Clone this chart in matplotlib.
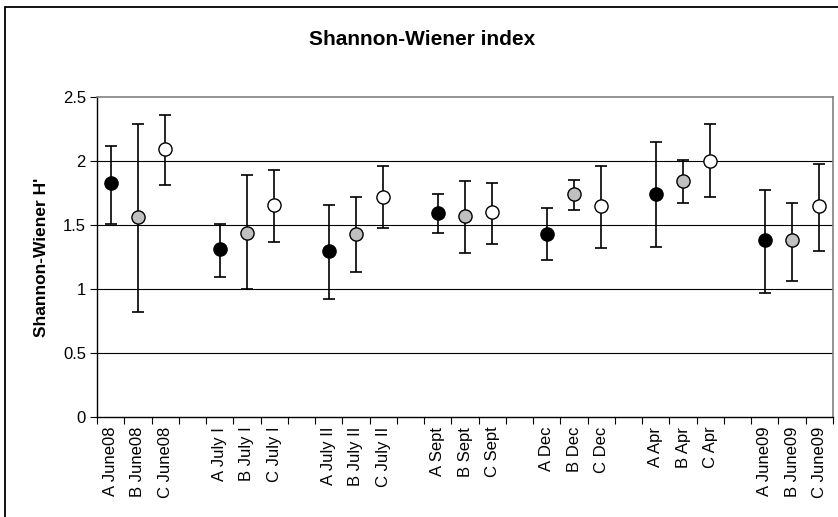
import matplotlib
matplotlib.use("Agg")
import matplotlib.pyplot as plt
from matplotlib.patches import Rectangle

plt.rcParams['font.family'] = ['Liberation Sans', 'DejaVu Sans']

categories = ["A June08", "B June08", "C June08", "",
              "A July I", "B July I", "C July I", "",
              "A July II", "B July II", "C July II", "",
              "A Sept", "B Sept", "C Sept", "",
              "A Dec", "B Dec", "C Dec", "",
              "A Apr", "B Apr", "C Apr", "",
              "A June09", "B June09", "C June09"]

# None marks the empty spacer categories
means = [1.83, 1.56, 2.09, None,
         1.31, 1.44, 1.66, None,
         1.30, 1.43, 1.72, None,
         1.59, 1.57, 1.60, None,
         1.43, 1.745, 1.65, None,
         1.745, 1.84, 2.00, None,
         1.38, 1.38, 1.65]
upper = [2.12, 2.29, 2.36, None,
         1.51, 1.89, 1.93, None,
         1.66, 1.72, 1.96, None,
         1.74, 1.84, 1.83, None,
         1.63, 1.855, 1.96, None,
         2.15, 2.01, 2.29, None,
         1.77, 1.67, 1.98]
lower = [1.51, 0.82, 1.81, None,
         1.09, 1.00, 1.37, None,
         0.92, 1.13, 1.48, None,
         1.44, 1.28, 1.35, None,
         1.23, 1.62, 1.32, None,
         1.33, 1.67, 1.72, None,
         0.97, 1.06, 1.30]
site = ["A", "B", "C", None] * 6 + ["A", "B", "C"]
site_colors = {"A": "black", "B": "#c0c0c0", "C": "white"}

fig = plt.figure(figsize=(8.38, 5.17), dpi=100)
ax = fig.add_axes([97/838, 100/517, (833-97)/838, (417-97)/517])

n = len(categories)
for i in range(n):
    if means[i] is None:
        continue
    m = means[i]
    ax.errorbar([i], [m], yerr=[[m - lower[i]], [upper[i] - m]],
                fmt='none', ecolor='black', elinewidth=1.2, capsize=4,
                capthick=1.2, zorder=3)
    ax.plot([i], [m], 'o', markersize=9.5, markerfacecolor=site_colors[site[i]],
            markeredgecolor='black', markeredgewidth=1.0, zorder=4)

ax.set_xlim(-0.5, n - 0.5)
ax.set_ylim(0, 2.5)
ax.set_yticks([0, 0.5, 1, 1.5, 2, 2.5])
ax.set_yticklabels(["0", "0.5", "1", "1.5", "2", "2.5"], fontsize=12)
for yv in [0.5, 1, 1.5, 2]:
    ax.axhline(yv, color='black', linewidth=0.8, zorder=1)

ax.set_xticks(range(n))
ax.set_xticklabels(categories, rotation=90, fontsize=12)
ax.tick_params(axis='x', length=0, pad=7)
ax.set_xticks([i - 0.5 for i in range(n + 1)], minor=True)
ax.tick_params(axis='x', which='minor', length=5, direction='out', width=0.8)
ax.tick_params(axis='y', length=5, direction='out', width=0.8, pad=3)

for s in ['top', 'right']:
    ax.spines[s].set_color('#808080')
    ax.spines[s].set_linewidth(1.2)
for s in ['left', 'bottom']:
    ax.spines[s].set_color('black')
    ax.spines[s].set_linewidth(1.0)

ax.set_ylabel("Shannon-Wiener H'", fontsize=12.5, fontweight='bold', labelpad=10)
fig.text(422/838, 1 - 45/517, "Shannon-Wiener index", ha='center', va='baseline',
         fontsize=15, fontweight='bold')

fig.patches.append(Rectangle((5/838, -0.01), 1.0, 1 - 7/517 + 0.01,
                             transform=fig.transFigure, fill=False,
                             edgecolor='black', linewidth=1.3))

fig.savefig("out.png", dpi=100)
